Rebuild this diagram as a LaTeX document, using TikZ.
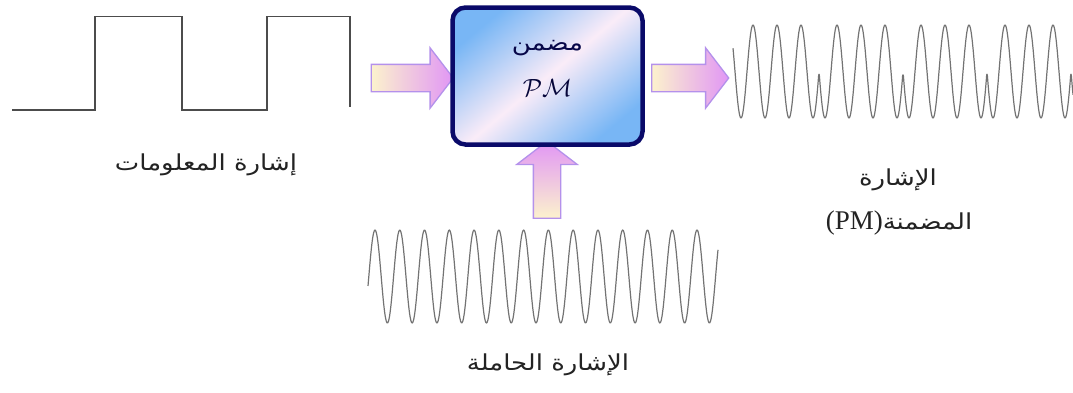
\documentclass[tikz,border=0pt]{standalone}
\usepackage{fontspec}
\setmainfont{Liberation Serif}
\newfontfamily\arabicfont[Script=Arabic,FakeStretch=1.18]{DejaVu Sans}
\TeXXeTstate=1
\usetikzlibrary{shapes.arrows,calc,positioning}
\definecolor{boxnavy}{RGB}{10,10,105}
\definecolor{boxblue}{RGB}{120,182,245}
\definecolor{boxpink}{RGB}{250,236,248}
\definecolor{arrline}{RGB}{180,145,235}
\definecolor{arrcream}{RGB}{252,242,205}
\definecolor{arrpink}{RGB}{225,150,245}
\definecolor{wavegray}{RGB}{115,115,115}
\definecolor{txtgray}{RGB}{35,35,35}
\tikzstyle{modbox}=[draw=boxnavy,line width=4.5pt,rounded corners=13pt,minimum width=190pt,minimum height=137pt,shading=axis,top color=boxblue,bottom color=boxblue,middle color=boxpink,shading angle=40]
\tikzstyle{fatarrow}=[single arrow,draw=arrline,line width=1.3pt,inner xsep=0pt,inner ysep=13pt,single arrow head extend=16.5pt,single arrow tip angle=105]
\tikzstyle{wave}=[draw=wavegray,line width=1.2pt,line join=round]
\tikzstyle{square}=[draw=black!70,line width=1.2pt]
\tikzstyle{lbl}=[text=txtgray,font=\arabicfont\fontsize{22}{26}\selectfont]

\begin{document}
\begin{tikzpicture}[x=1pt,y=-1pt]
  \useasboundingbox (0,0) rectangle (1073,392);

  % block arrows first, the box goes on top
  \node[fatarrow,minimum height=82pt,left color=arrcream,right color=arrpink] (inarr) at (407,78) {};
  \node[fatarrow,minimum height=77pt,left color=arrcream,right color=arrpink] (outarr) at (685,78) {};
  \node[fatarrow,minimum height=77pt,shape border rotate=90,inner xsep=13pt,inner ysep=0pt,bottom color=arrcream,top color=arrpink] (carrarr) at (547,185) {};

  % the modulator
  \node[modbox] (mod) at (547.5,76) {};
  \node[text=boxnavy!70!black,font=\arabicfont\fontsize{22}{26}\selectfont] (modname) at ($(mod.center)+(0,-28)$) {\beginR مضمن\endR};
  \node[text=boxnavy!55!black,font=\fontsize{27}{30}\selectfont] (modpm) at ($(mod.center)+(0,12)$) {$\mathcal{PM}$};

  % information signal
  \draw[square] (12,110) -- (95,110) -- (95,16.5) -- (182,16.5) -- (182,110)
    -- (267,110) -- (267,16.5) -- (350,16.5) -- (350,107);

  % carrier
  \draw[wave] plot[domain=368:718,samples=500,smooth] (\x,{276.5-46.5*cos((\x-375)/24.77*360)});

  % phase modulated signal
  \draw[wave] plot[domain=733:1073,samples=600,smooth]
    (\x,{71.5-46.5*cos((\x-753)/24*360+180*((\x>819)-(\x>903)+(\x>987)-(\x>1071)))});

  % labels
  \node[lbl] (infolbl) at (206,165) {\beginR إشارة المعلومات\endR};
  \node[lbl] (carrlbl) at (548,365) {\beginR الإشارة الحاملة\endR};
  \node[lbl] (pmlbl1) at (898,180) {\beginR الإشارة\endR};
  \node[lbl] (pmlbl2) at (899,223) {{\rmfamily\fontsize{27}{30}\selectfont(PM)}\beginR المضمنة\endR};
\end{tikzpicture}
\end{document}
